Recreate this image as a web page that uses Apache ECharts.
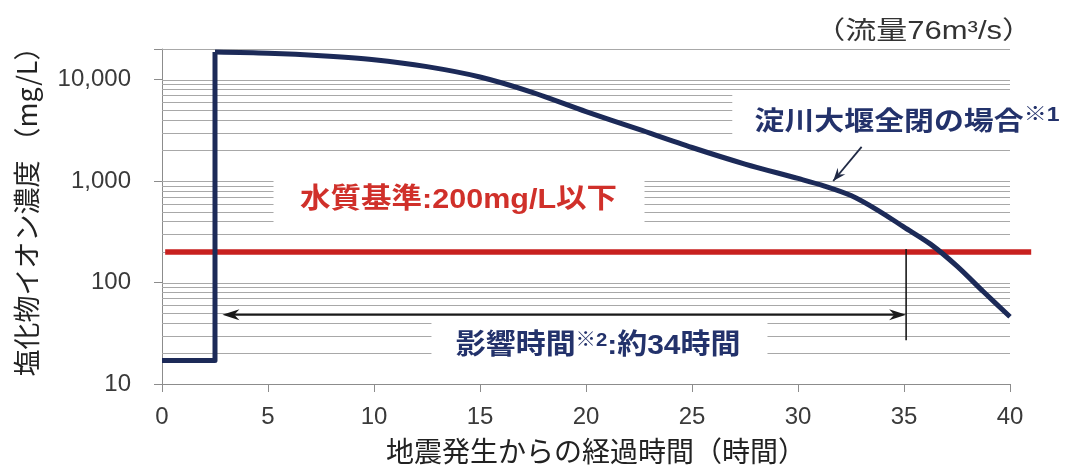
<!DOCTYPE html>
<html>
<head>
<meta charset="utf-8">
<script src="https://cdn.jsdelivr.net/npm/echarts@6/dist/echarts.min.js"></script>
<style>
  html, body { margin: 0; padding: 0; background: #ffffff; }
  #chart { width: 1067px; height: 476px; }
</style>
</head>
<body>
<div id="chart"></div>
<script>
// Elapsed time after the earthquake (hours) and chloride-ion concentration (mg/L)
const hours    = [0, 2.5, 2.5, 5, 7.5, 10, 12.5, 15, 17.5, 20, 22.5, 25, 27.5, 30, 31.25, 32.5, 33.75, 35, 36.25, 37.5, 38.75, 40];
const chloride = [17, 17, 18700, 18200, 17200, 15700, 13400, 10600, 7450, 4840, 3220, 2140, 1470, 1060, 893, 720, 518, 352, 239, 145, 81, 46];

// Axis ticks
const xTickStep = 5;
const yTickLabels = [10, 100, 1000, 10000];

// Water-quality standard and the affected duration
const standardLevel = 200;   // mg/L
const impactHours = 34;      // hours
const flowRate = 76;         // m3/s

// ---------------------------------------------------------------------------
const NAVY = '#1c2a58';
const NAVY_TEXT = '#23326b';
const RED = '#c8211f';
const RED_TEXT = '#d0302a';
const GRID_GRAY = '#a8a8a8';
const AXIS_GRAY = '#8c8c8c';
const LATIN = '"Liberation Sans", "Noto Sans CJK JP", sans-serif';
const CJK = '"Noto Sans CJK JP", "Liberation Sans", sans-serif';

// Logarithmic minor grid: 2..9 of every decade, up to the top of the axis
const gridValues = [];
for (let d = 10; d <= 10000; d *= 10) {
  for (let k = 1; k <= 9; k++) {
    const v = d * k;
    if (v > 10 && v <= 20000) gridValues.push(v);
  }
}

const curve = hours.map((h, i) => [h, chloride[i]]);
const stepPart = curve.slice(0, 3);
const decayPart = curve.slice(2);

// Annotation layout, in axis units (hours, mg/L)
const labelBoxes = [
  [5.26, 1377, 22.76, 351],
  [26.9, 7780, 42.7, 2550],
  [12.71, 45, 28.56, 15.1]
];
const labels = [
  { at: [13.99, 640], align: 'center', sx: 1.09,
    text: '{a|水質基準:' + standardLevel + 'mg/L以下}',
    rich: { a: { fontSize: 28, fontWeight: 'bold', fill: RED_TEXT, fontFamily: LATIN } } },
  { at: [27.95, 4020], align: 'left', sx: 1.15,
    text: '{a|淀川大堰全閉の場合}{s|※1}',
    rich: { a: { fontSize: 26, fontWeight: 'bold', fill: NAVY_TEXT, fontFamily: CJK, lineHeight: 28 },
            s: { fontSize: 20, fontWeight: 'bold', fill: NAVY_TEXT, fontFamily: LATIN, verticalAlign: 'top', lineHeight: 28 } } },
  { at: [20.57, 23.8], align: 'center', sx: 1.07,
    text: '{a|影響時間}{s|※2}{a|:約' + impactHours + '時間}',
    rich: { a: { fontSize: 28, fontWeight: 'bold', fill: NAVY_TEXT, fontFamily: LATIN, lineHeight: 30 },
            s: { fontSize: 19, fontWeight: 'bold', fill: NAVY_TEXT, fontFamily: LATIN, verticalAlign: 'top', lineHeight: 30 } } }
];
const impactArrow = { from: 2.85, to: 35.1, level: 48 };
const impactMarker = { at: 35.1, top: 214, bottom: 27 };
const pointer = { from: [33.0, 2170], to: [31.66, 1000] };
const standardSpan = [0.15, 41];

function arrowHead(tip, from, len, half, notch) {
  const dx = tip[0] - from[0], dy = tip[1] - from[1];
  const L = Math.hypot(dx, dy) || 1;
  const ux = dx / L, uy = dy / L, nx = -uy, ny = ux;
  const bx = tip[0] - ux * len, by = tip[1] - uy * len;
  return [
    [tip[0], tip[1]],
    [bx + nx * half, by + ny * half],
    [tip[0] - ux * len * notch, tip[1] - uy * len * notch],
    [bx - nx * half, by - ny * half]
  ];
}

const chart = echarts.init(document.getElementById('chart'), null, { renderer: 'canvas' });

chart.setOption({
  animation: false,
  backgroundColor: '#ffffff',
  grid: { left: 162, right: 57, top: 49, bottom: 92, containLabel: false, outerBoundsMode: 'none' },
  xAxis: {
    type: 'value', min: 0, max: 40, interval: xTickStep,
    axisLine: { show: true, onZero: false, lineStyle: { color: AXIS_GRAY, width: 1 } },
    axisTick: { show: true, length: 8, lineStyle: { color: AXIS_GRAY } },
    axisLabel: { fontSize: 24, color: '#3a3a3a', fontFamily: LATIN, margin: 21 },
    splitLine: { show: false }
  },
  yAxis: {
    type: 'log', logBase: 10, min: 10, max: 20000,
    axisLine: { show: true, lineStyle: { color: AXIS_GRAY, width: 1 } },
    axisTick: { show: true, length: 8, lineStyle: { color: AXIS_GRAY } },
    axisLabel: {
      fontSize: 24, color: '#3a3a3a', fontFamily: LATIN, margin: 31,
      formatter: v => {
        const hit = yTickLabels.find(t => Math.abs(t - v) / t < 1e-6);
        return hit ? hit.toLocaleString('en-US') : '';
      }
    },
    splitLine: { show: false },
    minorTick: { show: false },
    minorSplitLine: { show: false }
  },
  graphic: [
    { type: 'text', x: 1033, y: 32, scaleX: 1.24, silent: true,
      style: { text: '（流量' + flowRate + 'm³/s）', fill: '#333333', fontSize: 25, fontFamily: LATIN,
               align: 'right', verticalAlign: 'middle' } },
    { type: 'text', x: 596, y: 451, silent: true,
      style: { text: '地震発生からの経過時間（時間）', fill: '#222222', fontSize: 28, fontFamily: CJK,
               align: 'center', verticalAlign: 'middle' } },
    { type: 'text', x: 27, y: 205, rotation: Math.PI / 2, silent: true,
      style: { text: '塩化物イオン濃度 （mg/L）', fill: '#222222', fontSize: 27, fontFamily: CJK,
               align: 'center', verticalAlign: 'middle' } }
  ],
  series: [
    {
      // minor grid lines of the log axis
      type: 'custom', coordinateSystem: 'cartesian2d', silent: true, z: 1, clip: false,
      data: gridValues.map(v => [0, v]),
      renderItem: (params, api) => {
        const v = api.value(1);
        const p0 = api.coord([0, v]), p1 = api.coord([40, v]);
        const y = Math.round(p0[1]) + 0.5;
        return { type: 'line', shape: { x1: p0[0], y1: y, x2: p1[0], y2: y },
                 style: { stroke: GRID_GRAY, lineWidth: 1 } };
      }
    },
    {
      // white label boxes
      type: 'custom', coordinateSystem: 'cartesian2d', silent: true, z: 2, clip: false,
      data: labelBoxes.map(b => [b[0], b[1]]),
      renderItem: (params, api) => {
        const b = labelBoxes[params.dataIndex];
        const p0 = api.coord([b[0], b[1]]), p1 = api.coord([b[2], b[3]]);
        return { type: 'rect', shape: { x: p0[0], y: p0[1], width: p1[0] - p0[0], height: p1[1] - p0[1] },
                 style: { fill: '#ffffff' } };
      }
    },
    {
      // annotation texts
      type: 'custom', coordinateSystem: 'cartesian2d', silent: true, z: 6, clip: false,
      data: labels.map(l => l.at),
      renderItem: (params, api) => {
        const l = labels[params.dataIndex];
        const p = api.coord(l.at);
        return { type: 'text', x: p[0], y: p[1], scaleX: l.sx, scaleY: 1,
                 style: { text: l.text, rich: l.rich, align: l.align, verticalAlign: 'middle' } };
      }
    },
    {
      // water-quality standard line
      type: 'custom', coordinateSystem: 'cartesian2d', silent: true, z: 3, clip: false,
      data: [[standardSpan[0], standardLevel]],
      renderItem: (params, api) => {
        const p0 = api.coord([standardSpan[0], standardLevel]);
        const p1 = api.coord([standardSpan[1], standardLevel]);
        return { type: 'line', shape: { x1: p0[0], y1: p0[1], x2: p1[0], y2: p1[1] },
                 style: { stroke: RED, lineWidth: 5.5 } };
      }
    },
    {
      type: 'line', data: stepPart, showSymbol: false, symbol: 'none', z: 4,
      lineStyle: { color: NAVY, width: 5, join: 'round' }, smooth: false, silent: true
    },
    {
      type: 'line', data: decayPart, showSymbol: false, symbol: 'none', z: 4,
      lineStyle: { color: NAVY, width: 5, join: 'round' }, smooth: 0.3, silent: true
    },
    {
      // duration arrow, end marker and pointer arrow
      type: 'custom', coordinateSystem: 'cartesian2d', silent: true, z: 5, clip: false,
      data: [[impactArrow.from, impactArrow.level]],
      renderItem: (params, api) => {
        const a = api.coord([impactArrow.from, impactArrow.level]);
        const b = api.coord([impactArrow.to, impactArrow.level]);
        const m0 = api.coord([impactMarker.at, impactMarker.top]);
        const m1 = api.coord([impactMarker.at, impactMarker.bottom]);
        const q0 = api.coord(pointer.from);
        const q1 = api.coord(pointer.to);
        const dark = '#1a1a1a';
        return {
          type: 'group',
          children: [
            { type: 'line', shape: { x1: a[0] + 8, y1: a[1], x2: b[0] - 8, y2: b[1] },
              style: { stroke: dark, lineWidth: 2 } },
            { type: 'polygon', shape: { points: arrowHead(a, b, 17, 5.5, 0.7) }, style: { fill: dark } },
            { type: 'polygon', shape: { points: arrowHead(b, a, 17, 5.5, 0.7) }, style: { fill: dark } },
            { type: 'line', shape: { x1: m0[0], y1: m0[1], x2: m1[0], y2: m1[1] },
              style: { stroke: dark, lineWidth: 1.6 } },
            { type: 'line', shape: { x1: q0[0], y1: q0[1], x2: q1[0], y2: q1[1] },
              style: { stroke: '#202a45', lineWidth: 1.8 } },
            { type: 'polygon', shape: { points: arrowHead(q1, q0, 13, 5, 0.65) }, style: { fill: '#202a45' } }
          ]
        };
      }
    }
  ]
});
</script>
</body>
</html>
